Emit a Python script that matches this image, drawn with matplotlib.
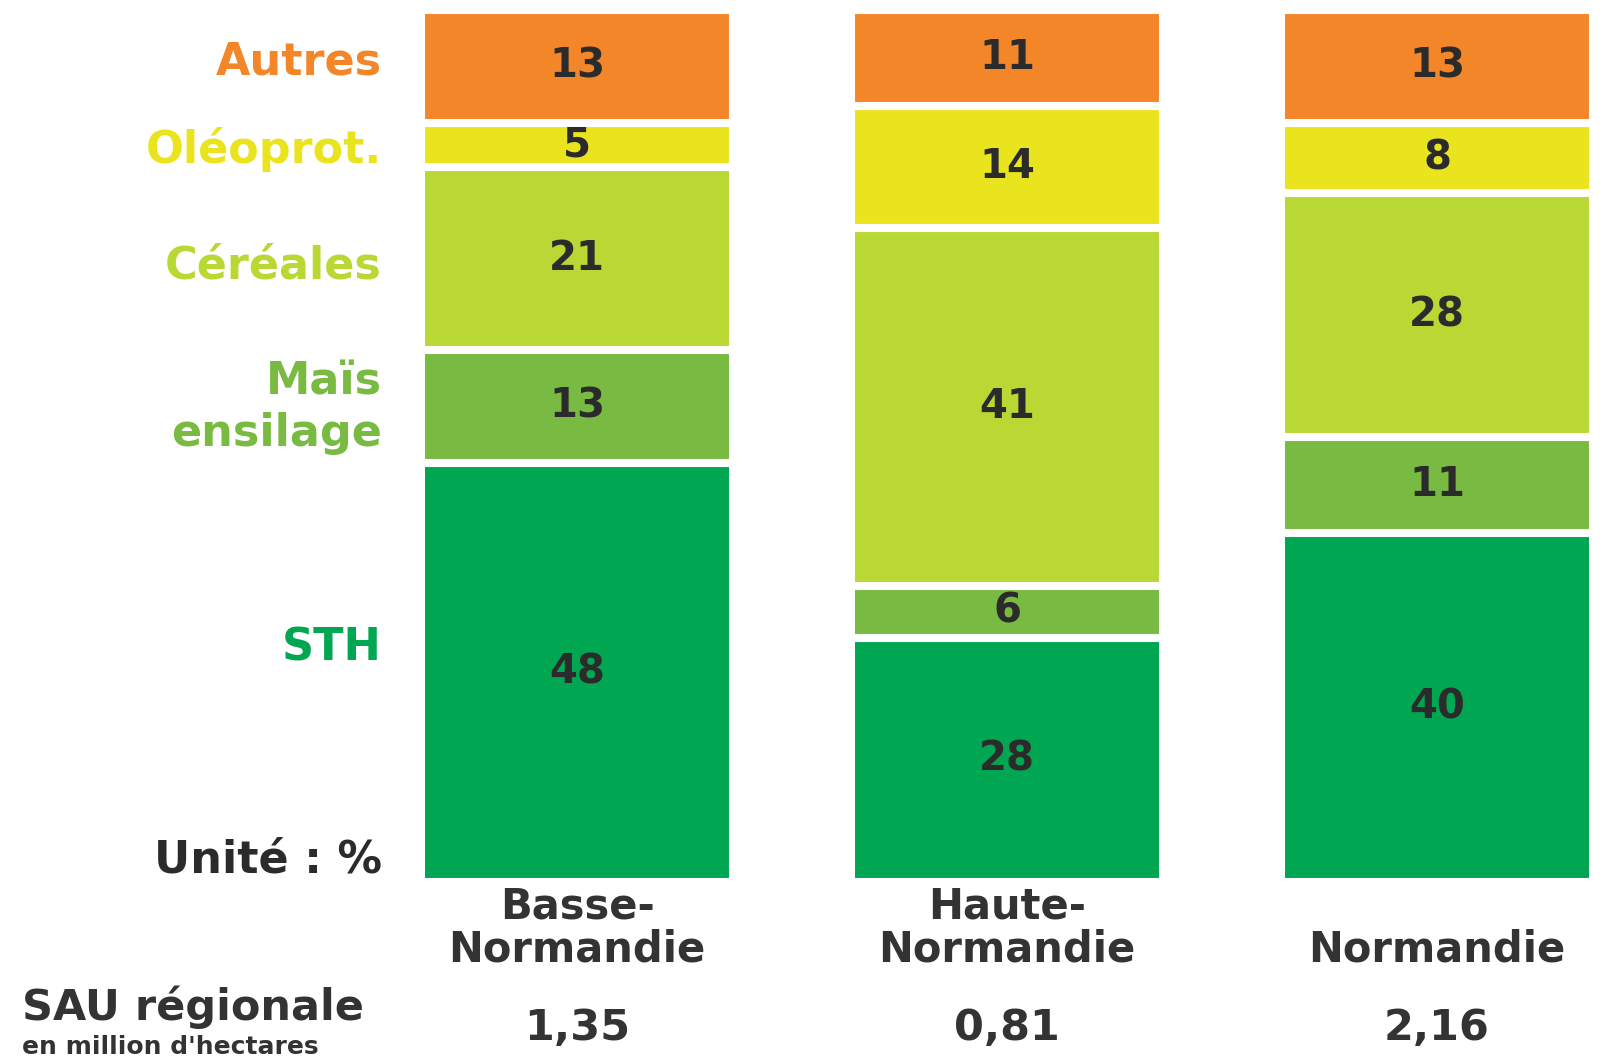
import numpy as np
import matplotlib
matplotlib.use("Agg")
from matplotlib import pyplot as plt
from matplotlib import transforms

# Data (unit: %)
regions = ["Basse-\nNormandie", "Haute-\nNormandie", "Normandie"]
sau = ["1,35", "0,81", "2,16"]
cultures = ["STH", "Maïs\nensilage", "Céréales", "Oléoprot.", "Autres"]
sth = [48, 28, 40]
mais = [13, 6, 11]
cereales = [21, 41, 28]
oleo = [5, 14, 8]
autres = [13, 11, 13]
colors = ["#00a651", "#78ba42", "#b9d833", "#eae41e", "#f4862a"]
label_y = [26.8, 54.4, 70.6, 84.0, 94.0]  # where the left labels sit

W, H = 1619, 1061
fig = plt.figure(figsize=(W / 100, H / 100), dpi=100)
ax = fig.add_axes([405 / W, 1 - 882 / H, 1204 / W, 872 / H])
ax.set_xlim(-0.4, 2.4)
ax.set_ylim(0, 100)
ax.axis("off")

x = np.arange(len(regions))
series = [sth, mais, cereales, oleo, autres]
bottom = np.zeros(len(regions))
for vals, col in zip(series, colors):
    ax.bar(x, vals, width=0.7256, bottom=bottom, color=col,
           edgecolor="white", linewidth=5.8)
    for xi, b, v in zip(x, bottom, vals):
        ax.text(xi, b + v / 2, str(v), ha="center", va="center",
                fontsize=29, fontweight="bold", color="#2b2b2b")
    bottom += np.array(vals)

# Left labels
trans = transforms.blended_transform_factory(fig.transFigure, ax.transData)
for lab, ly, col in zip(cultures, label_y, colors):
    ax.text(382 / W, ly, lab, transform=trans, ha="right",
            va="center", fontsize=32, fontweight="bold", color=col,
            linespacing=1.25, multialignment="right")

fig.text(382 / W, 1 - 860 / H, "Unité : %", ha="right", va="center",
         fontsize=32, fontweight="bold", color="#2b2b2b")

# Region names and SAU
tx = transforms.blended_transform_factory(ax.transData, fig.transFigure)
for xi, reg, s in zip(x, regions, sau):
    ax.text(xi, 1 - 962 / H, reg, transform=tx, ha="center", va="baseline",
            fontsize=30, fontweight="bold", color="#333333",
            linespacing=1.05, multialignment="center")
    ax.text(xi, 1 - 1040 / H, s, transform=tx, ha="center", va="baseline",
            fontsize=31, fontweight="bold", color="#333333")

fig.text(22 / W, 1 - 1020 / H, "SAU régionale", ha="left", va="baseline",
         fontsize=31, fontweight="bold", color="#333333")
fig.text(22 / W, 1 - 1054 / H, "en million d'hectares", ha="left",
         va="baseline", fontsize=18, fontweight="bold", color="#333333")

fig.savefig("out.png", dpi=100)
